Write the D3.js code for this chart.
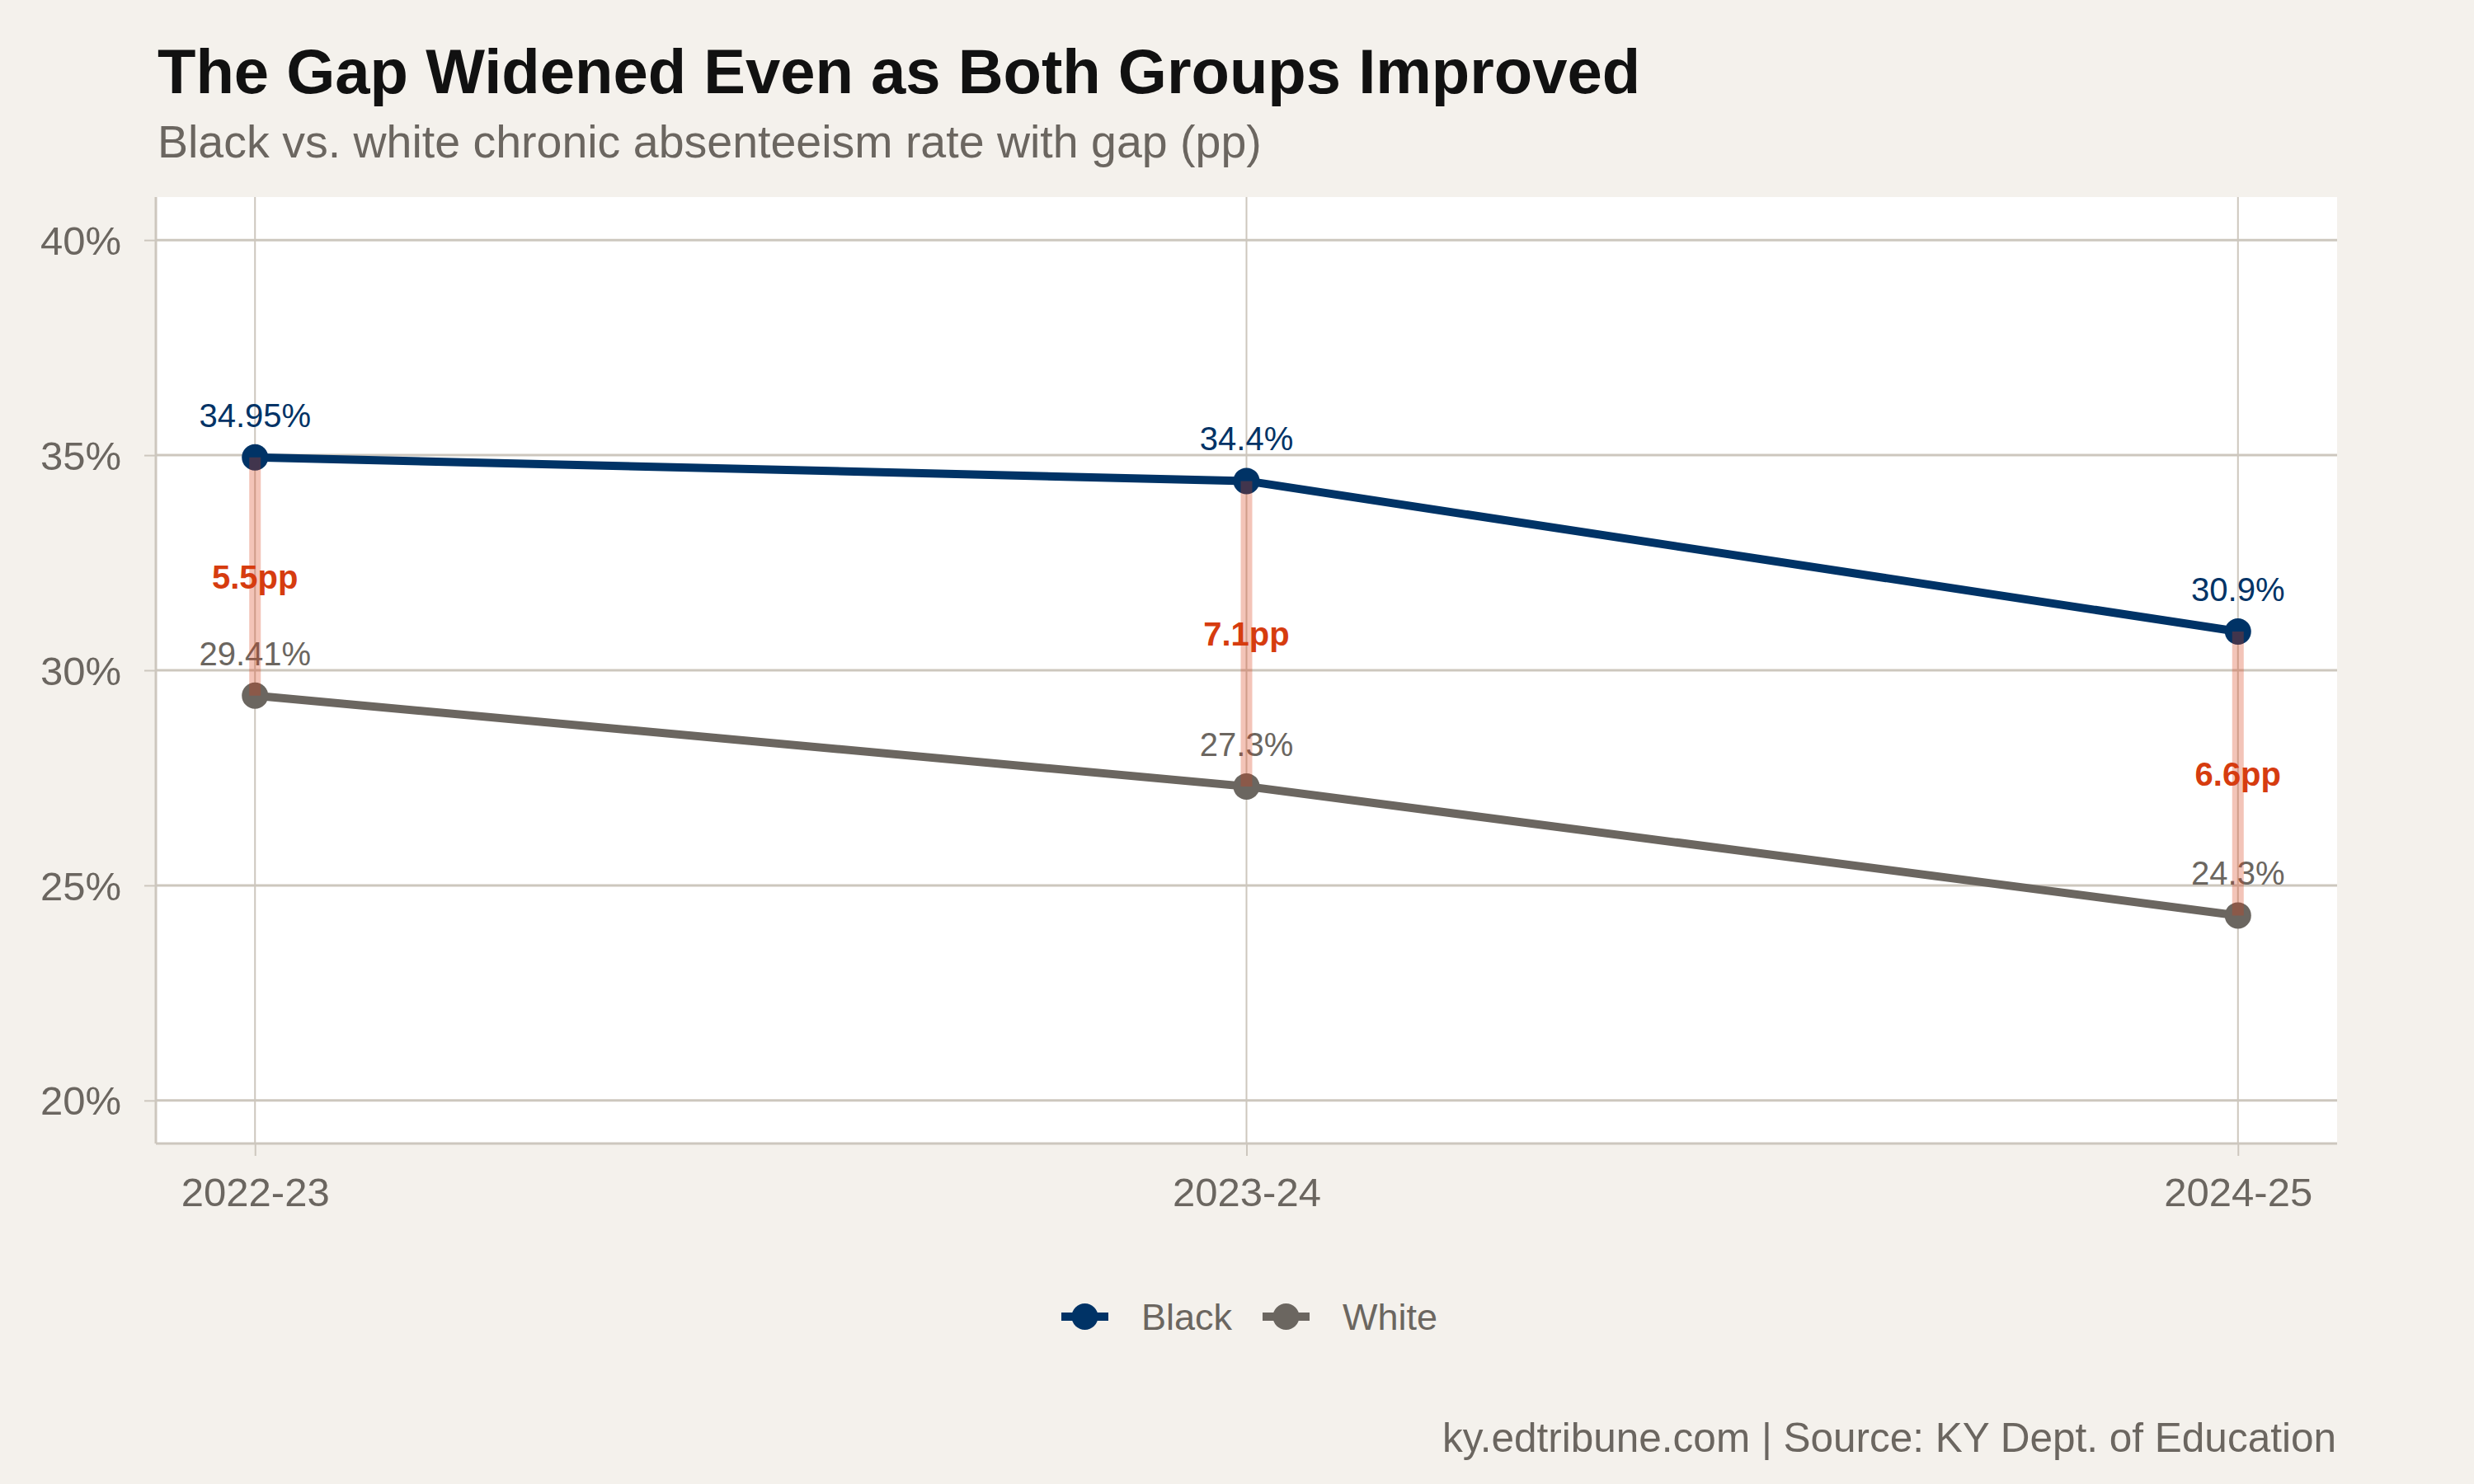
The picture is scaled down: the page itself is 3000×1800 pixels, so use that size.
<!DOCTYPE html>
<html>
<head>
<meta charset="utf-8">
<script src="https://cdn.jsdelivr.net/npm/d3@7"></script>
<style>
  body { margin: 0; background: #f4f1ec; }
  svg { display: block; font-family: "Liberation Sans", Arial, Helvetica, sans-serif; }
</style>
</head>
<body>
<svg id="chart"></svg>
<script>
// chart data
const years = ["2022-23", "2023-24", "2024-25"];
const blackRates = [34.95, 34.4, 30.9];
const whiteRates = [29.41, 27.3, 24.3];
const yTicks = [20, 25, 30, 35, 40];
const seriesNames = ["Black", "White"];
const seriesColors = ["#003366", "#6b6660"];

const width = 3000;
const height = 1800;
const svg = d3.select("#chart").attr("width", width).attr("height", height);

// panel box
const panel = { left: 189, right: 2834, top: 239, bottom: 1387 };

svg.append("rect").attr("width", width).attr("height", height).attr("fill", "#f4f1ec");
svg.append("rect")
  .attr("x", panel.left).attr("y", panel.top)
  .attr("width", panel.right - panel.left).attr("height", panel.bottom - panel.top)
  .attr("fill", "#ffffff");

const x = d3.scalePoint().domain(years).range([panel.left, panel.right]).padding(0.1);
const y = d3.scaleLinear().domain([19, 41]).range([panel.bottom, panel.top]);

const gridColor = "#cdc7be";

// gridlines
svg.append("g").selectAll("line").data(yTicks).enter().append("line")
  .attr("x1", panel.left).attr("x2", panel.right)
  .attr("y1", (d) => y(d)).attr("y2", (d) => y(d))
  .attr("stroke", gridColor).attr("stroke-width", 3);

svg.append("g").selectAll("line").data(years).enter().append("line")
  .attr("x1", (d) => x(d)).attr("x2", (d) => x(d))
  .attr("y1", panel.top).attr("y2", panel.bottom)
  .attr("stroke", gridColor).attr("stroke-width", 2);

// axes
const yAxis = svg.append("g")
  .attr("transform", `translate(${panel.left},0)`)
  .call(d3.axisLeft(y).tickValues(yTicks).tickSize(14).tickPadding(28).tickFormat((d) => d + "%"));
const xAxis = svg.append("g")
  .attr("transform", `translate(0,${panel.bottom})`)
  .call(d3.axisBottom(x).tickSize(15).tickPadding(26));

[yAxis, xAxis].forEach((ax) => {
  ax.select(".domain").attr("stroke", gridColor).attr("stroke-width", 3);
  ax.selectAll(".tick line").attr("stroke", gridColor).attr("stroke-width", 2);
  ax.selectAll(".tick text")
    .attr("fill", "#6b6660")
    .style("font-size", "49px");
});
yAxis.select(".domain").attr("d", `M0,${panel.top}V${panel.bottom}`);
xAxis.select(".domain").attr("d", `M${panel.left},0H${panel.right}`);
yAxis.selectAll(".tick text").attr("dy", "0.35em");
xAxis.selectAll(".tick text").attr("dy", "0.71em");

// series
const series = seriesNames.map((name, i) => ({
  name: name,
  color: seriesColors[i],
  values: (i === 0 ? blackRates : whiteRates).map((v, j) => ({ year: years[j], value: v })),
}));

const line = d3.line().x((d) => x(d.year)).y((d) => y(d.value));

svg.append("g").selectAll("path").data(series).enter().append("path")
  .attr("d", (d) => line(d.values))
  .attr("fill", "none")
  .attr("stroke", (d) => d.color)
  .attr("stroke-width", 10);

series.forEach((s) => {
  svg.append("g").selectAll("circle").data(s.values).enter().append("circle")
    .attr("cx", (d) => x(d.year)).attr("cy", (d) => y(d.value))
    .attr("r", 16).attr("fill", s.color);

  svg.append("g").selectAll("text").data(s.values).enter().append("text")
    .attr("x", (d) => x(d.year)).attr("y", (d) => y(d.value) - 37)
    .attr("text-anchor", "middle")
    .attr("fill", s.color)
    .style("font-size", "40px")
    .text((d) => d.value + "%");
});

// gap segments
const gaps = years.map((yr, i) => ({ year: yr, hi: blackRates[i], lo: whiteRates[i] }));

svg.append("g").selectAll("line").data(gaps).enter().append("line")
  .attr("x1", (d) => x(d.year)).attr("x2", (d) => x(d.year))
  .attr("y1", (d) => y(d.hi)).attr("y2", (d) => y(d.lo))
  .attr("stroke", "#d63c13").attr("stroke-opacity", 0.3)
  .attr("stroke-width", 14);

svg.append("g").selectAll("text").data(gaps).enter().append("text")
  .attr("x", (d) => x(d.year)).attr("y", (d) => y((d.hi + d.lo) / 2))
  .attr("dy", "0.36em")
  .attr("text-anchor", "middle")
  .attr("fill", "#d63c0f")
  .style("font-size", "40px").style("font-weight", "bold")
  .text((d) => (d.hi - d.lo).toFixed(1) + "pp");

// titles
svg.append("text").attr("x", 191).attr("y", 113)
  .attr("fill", "#111111").style("font-size", "76px").style("font-weight", "bold")
  .text("The Gap Widened Even as Both Groups Improved");
svg.append("text").attr("x", 191).attr("y", 191)
  .attr("fill", "#6b6660").style("font-size", "55.5px")
  .text("Black vs. white chronic absenteeism rate with gap (pp)");

// legend
const legendOffsets = [1287, 1531];
const legend = svg.append("g").selectAll("g").data(series).enter().append("g")
  .attr("transform", (d, i) => `translate(${legendOffsets[i]},1597)`);
legend.append("line").attr("x1", 0).attr("x2", 57)
  .attr("stroke", (d) => d.color).attr("stroke-width", 10);
legend.append("circle").attr("cx", 28.5).attr("r", 16).attr("fill", (d) => d.color);
legend.append("text").attr("x", 97).attr("dy", "0.36em")
  .attr("fill", "#6b6660").style("font-size", "45px")
  .text((d) => d.name);

// caption
svg.append("text").attr("x", 2833).attr("y", 1761)
  .attr("text-anchor", "end")
  .attr("fill", "#6b6660").style("font-size", "49.5px")
  .text("ky.edtribune.com | Source: KY Dept. of Education");
</script>
</body>
</html>
